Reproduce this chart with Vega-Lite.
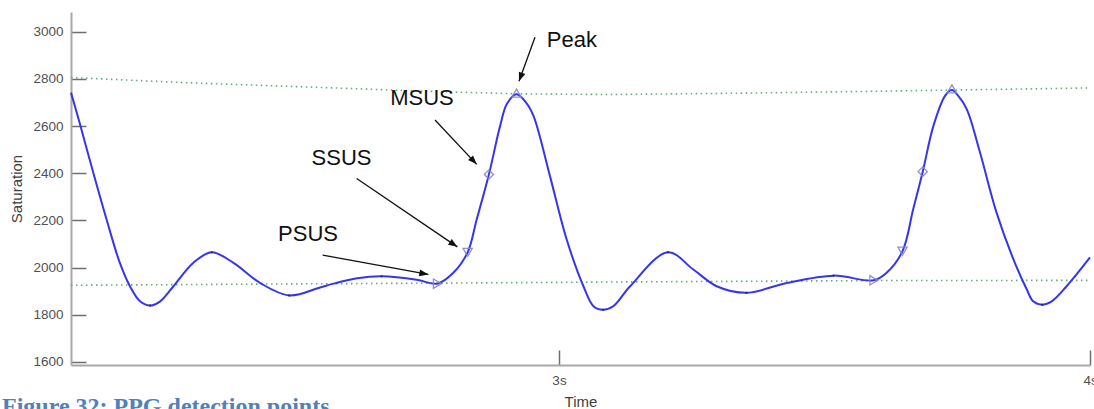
{
  "$schema": "https://vega.github.io/schema/vega-lite/v6.json",
  "width": 1019,
  "height": 353,
  "autosize": {"type": "none"},
  "padding": {"left": 71, "top": 12, "right": 4, "bottom": 44},
  "background": "white",
  "title": {
    "text": "Figure 32: PPG detection points",
    "orient": "bottom",
    "anchor": "start",
    "frame": "group",
    "dx": -69,
    "offset": 4,
    "baseline": "alphabetic",
    "font": "Liberation Serif",
    "fontSize": 24,
    "fontWeight": "bold",
    "color": "#4f81bd"
  },
  "config": {
    "view": {"stroke": null},
    "axis": {
      "grid": false,
      "domainColor": "#a8a8a8",
      "domainWidth": 2,
      "tickColor": "#6e6e6e",
      "tickWidth": 1.5,
      "labelFont": "Liberation Sans",
      "labelFontSize": 13.5,
      "labelColor": "#505050",
      "labelFlush": false,
      "titleFont": "Liberation Sans",
      "titleFontSize": 15,
      "titleFontWeight": "normal",
      "titleColor": "#404040"
    }
  },
  "datasets": {
    "curve": [
      {"t": 2.081, "v": 2742}, {"t": 2.098, "v": 2608}, {"t": 2.123, "v": 2402},
      {"t": 2.148, "v": 2204}, {"t": 2.173, "v": 2020}, {"t": 2.192, "v": 1921},
      {"t": 2.211, "v": 1857}, {"t": 2.230, "v": 1839}, {"t": 2.249, "v": 1857},
      {"t": 2.274, "v": 1921}, {"t": 2.311, "v": 2020}, {"t": 2.346, "v": 2065},
      {"t": 2.387, "v": 2020}, {"t": 2.437, "v": 1935}, {"t": 2.492, "v": 1882},
      {"t": 2.550, "v": 1916}, {"t": 2.575, "v": 1932}, {"t": 2.620, "v": 1955},
      {"t": 2.666, "v": 1963}, {"t": 2.732, "v": 1949}, {"t": 2.771, "v": 1932},
      {"t": 2.801, "v": 1978}, {"t": 2.828, "v": 2065}, {"t": 2.845, "v": 2204},
      {"t": 2.868, "v": 2395}, {"t": 2.889, "v": 2600}, {"t": 2.902, "v": 2695},
      {"t": 2.920, "v": 2735}, {"t": 2.938, "v": 2700}, {"t": 2.952, "v": 2643},
      {"t": 2.983, "v": 2388}, {"t": 3.0145, "v": 2119}, {"t": 3.046, "v": 1921},
      {"t": 3.065, "v": 1836}, {"t": 3.083, "v": 1821}, {"t": 3.102, "v": 1836},
      {"t": 3.134, "v": 1921}, {"t": 3.205, "v": 2065}, {"t": 3.253, "v": 1992},
      {"t": 3.297, "v": 1921}, {"t": 3.353, "v": 1893}, {"t": 3.429, "v": 1935},
      {"t": 3.517, "v": 1966}, {"t": 3.593, "v": 1946}, {"t": 3.617, "v": 1978},
      {"t": 3.647, "v": 2070}, {"t": 3.667, "v": 2247}, {"t": 3.685, "v": 2407},
      {"t": 3.705, "v": 2600}, {"t": 3.727, "v": 2728}, {"t": 3.740, "v": 2753},
      {"t": 3.752, "v": 2728}, {"t": 3.768, "v": 2671}, {"t": 3.793, "v": 2487},
      {"t": 3.824, "v": 2233}, {"t": 3.856, "v": 2034}, {"t": 3.881, "v": 1907},
      {"t": 3.893, "v": 1857}, {"t": 3.910, "v": 1843}, {"t": 3.928, "v": 1857},
      {"t": 3.956, "v": 1921}, {"t": 4.000, "v": 2043}
    ],
    "thr": [
      {"line": "upper", "t": 2.081, "v": 2806}, {"line": "upper", "t": 2.3, "v": 2784},
      {"line": "upper", "t": 2.55, "v": 2764}, {"line": "upper", "t": 2.75, "v": 2748},
      {"line": "upper", "t": 2.92, "v": 2737}, {"line": "upper", "t": 3.1, "v": 2734},
      {"line": "upper", "t": 3.35, "v": 2740}, {"line": "upper", "t": 3.6, "v": 2748},
      {"line": "upper", "t": 3.74, "v": 2753}, {"line": "upper", "t": 4.0, "v": 2762},
      {"line": "lower", "t": 2.081, "v": 1925}, {"line": "lower", "t": 2.5, "v": 1931},
      {"line": "lower", "t": 2.77, "v": 1934}, {"line": "lower", "t": 3.1, "v": 1939},
      {"line": "lower", "t": 3.59, "v": 1945}, {"line": "lower", "t": 4.0, "v": 1946}
    ],
    "extrema": [
      {"t": 2.230, "v": 1839}, {"t": 2.346, "v": 2065}, {"t": 2.492, "v": 1882},
      {"t": 2.666, "v": 1963}, {"t": 3.083, "v": 1821}, {"t": 3.205, "v": 2065},
      {"t": 3.353, "v": 1893}, {"t": 3.517, "v": 1966}, {"t": 3.910, "v": 1843}
    ],
    "markers": [
      {"kind": "PSUS", "t": 2.771, "v": 1932}, {"kind": "SSUS", "t": 2.828, "v": 2065},
      {"kind": "MSUS", "t": 2.868, "v": 2395}, {"kind": "Peak", "t": 2.920, "v": 2740},
      {"kind": "PSUS", "t": 3.593, "v": 1946}, {"kind": "SSUS", "t": 3.647, "v": 2070},
      {"kind": "MSUS", "t": 3.685, "v": 2407}, {"kind": "Peak", "t": 3.740, "v": 2758}
    ],
    "ann": [
      {"label": "Peak", "t": 2.977, "v": 2964, "at": 2.9548, "av": 2977, "bt": 2.9247, "bv": 2790},
      {"label": "MSUS", "t": 2.682, "v": 2718, "at": 2.7665, "av": 2626, "bt": 2.845, "bv": 2438},
      {"label": "SSUS", "t": 2.534, "v": 2464, "at": 2.619, "av": 2378, "bt": 2.8085, "bv": 2088},
      {"label": "PSUS", "t": 2.471, "v": 2143, "at": 2.555, "av": 2053, "bt": 2.754, "bv": 1971}
    ]
  },
  "layer": [
    {
      "data": {"name": "thr"},
      "mark": {"type": "line", "color": "#5fae7a", "strokeWidth": 1.6, "strokeDash": [1.5, 3.5]},
      "encoding": {
        "x": {
          "field": "t", "type": "quantitative",
          "scale": {"domain": [2.081, 4.0], "nice": false, "zero": false},
          "axis": {
            "title": "Time", "values": [3, 4], "labelExpr": "datum.value + 's'",
            "tickSize": -15, "labelPadding": 23, "titlePadding": 8
          }
        },
        "y": {
          "field": "v", "type": "quantitative",
          "scale": {"domain": [1587, 3084], "nice": false, "zero": false},
          "axis": {
            "title": "Saturation", "values": [1600, 1800, 2000, 2200, 2400, 2600, 2800, 3000],
            "format": "d",
            "tickSize": -15, "labelPadding": 23, "titlePadding": 8
          }
        },
        "detail": {"field": "line"}
      }
    },
    {
      "data": {"name": "curve"},
      "mark": {"type": "line", "color": "#3535f0", "strokeWidth": 2, "interpolate": "catmull-rom"},
      "encoding": {
        "x": {"field": "t", "type": "quantitative"},
        "y": {"field": "v", "type": "quantitative"}
      }
    },
    {
      "data": {"name": "extrema"},
      "mark": {"type": "point", "filled": true, "color": "#202040", "size": 5, "opacity": 0.8},
      "encoding": {
        "x": {"field": "t", "type": "quantitative"},
        "y": {"field": "v", "type": "quantitative"}
      }
    },
    {
      "data": {"name": "markers"},
      "mark": {"type": "point", "filled": false, "color": "#8585c8", "strokeWidth": 1.3, "size": 85, "opacity": 0.9},
      "encoding": {
        "x": {"field": "t", "type": "quantitative"},
        "y": {"field": "v", "type": "quantitative"},
        "shape": {
          "field": "kind", "type": "nominal",
          "scale": {"domain": ["PSUS", "SSUS", "MSUS", "Peak"], "range": ["triangle-right", "triangle-down", "diamond", "triangle-up"]},
          "legend": null
        }
      }
    },
    {
      "data": {"name": "ann"},
      "mark": {"type": "rule", "color": "#111111", "strokeWidth": 1.3},
      "encoding": {
        "x": {"field": "at", "type": "quantitative"},
        "y": {"field": "av", "type": "quantitative"},
        "x2": {"field": "bt"},
        "y2": {"field": "bv"}
      }
    },
    {
      "data": {"name": "ann"},
      "transform": [{"filter": "datum.label == 'Peak'"}],
      "mark": {"type": "point", "shape": "M0,0L-0.38,1L0.38,1Z", "filled": true, "color": "#111111", "size": 324, "opacity": 1, "angle": 200},
      "encoding": {
        "x": {"field": "bt", "type": "quantitative"},
        "y": {"field": "bv", "type": "quantitative"}
      }
    },
    {
      "data": {"name": "ann"},
      "transform": [{"filter": "datum.label == 'MSUS'"}],
      "mark": {"type": "point", "shape": "M0,0L-0.38,1L0.38,1Z", "filled": true, "color": "#111111", "size": 324, "opacity": 1, "angle": 137},
      "encoding": {
        "x": {"field": "bt", "type": "quantitative"},
        "y": {"field": "bv", "type": "quantitative"}
      }
    },
    {
      "data": {"name": "ann"},
      "transform": [{"filter": "datum.label == 'SSUS'"}],
      "mark": {"type": "point", "shape": "M0,0L-0.38,1L0.38,1Z", "filled": true, "color": "#111111", "size": 324, "opacity": 1, "angle": 124},
      "encoding": {
        "x": {"field": "bt", "type": "quantitative"},
        "y": {"field": "bv", "type": "quantitative"}
      }
    },
    {
      "data": {"name": "ann"},
      "transform": [{"filter": "datum.label == 'PSUS'"}],
      "mark": {"type": "point", "shape": "M0,0L-0.38,1L0.38,1Z", "filled": true, "color": "#111111", "size": 324, "opacity": 1, "angle": 100},
      "encoding": {
        "x": {"field": "bt", "type": "quantitative"},
        "y": {"field": "bv", "type": "quantitative"}
      }
    },
    {
      "data": {"name": "ann"},
      "mark": {"type": "text", "align": "left", "baseline": "middle", "font": "Liberation Sans", "fontSize": 22, "color": "#111111"},
      "encoding": {
        "x": {"field": "t", "type": "quantitative"},
        "y": {"field": "v", "type": "quantitative"},
        "text": {"field": "label"}
      }
    }
  ]
}
